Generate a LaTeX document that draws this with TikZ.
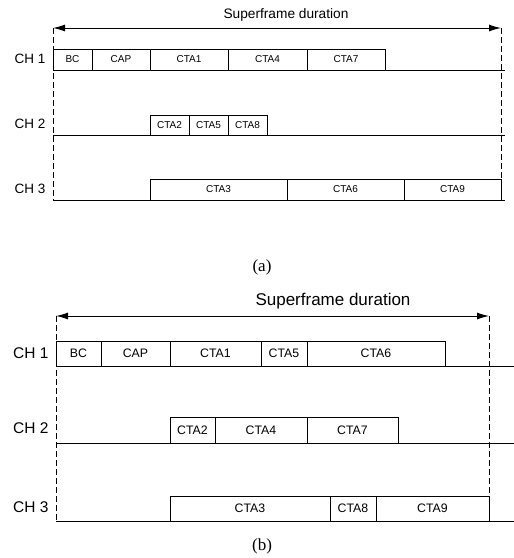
\documentclass[tikz,border=0pt]{standalone}
\usepackage{fontspec}
\setmainfont{Liberation Serif}
\setsansfont{Liberation Sans}
\usetikzlibrary{arrows.meta}
\begin{document}
\begin{tikzpicture}[x=1pt,y=-1pt,line width=1pt,
  slota/.style={draw, inner sep=0pt, outer sep=0pt, anchor=north west, minimum height=21pt,
    font=\sffamily\fontsize{10}{11}\selectfont},
  slotb/.style={draw, inner sep=0pt, outer sep=0pt, anchor=north west, minimum height=25pt,
    font=\sffamily\fontsize{12.3}{14}\selectfont},
  cha/.style={anchor=east, inner sep=0pt, font=\sffamily\fontsize{13.5}{15}\selectfont},
  chb/.style={anchor=east, inner sep=0pt, font=\sffamily\fontsize{15.5}{17}\selectfont},
  dur/.style={{Latex[length=12pt,width=7pt]}-{Latex[length=12pt,width=7pt]}},
  guide/.style={dashed, dash pattern=on 6pt off 3pt, line width=0.8pt},
  sublabel/.style={inner sep=0pt, font=\fontsize{17}{19}\selectfont}]
\useasboundingbox (0,0) rectangle (514,558);
% ---------------- (a) ----------------
\coordinate (aTL) at (53,28);
\coordinate (aTR) at (501,28);
\coordinate (aBL) at (53,200);
\draw[dur] (aTL) -- (aTR);
\node[inner sep=0pt, font=\sffamily\fontsize{13.7}{15}\selectfont] (atitle) at (286,15) {Superframe duration};
% CH1
\node[slota, minimum width=39pt] (abc) at (53,49) {BC};
\node[slota, minimum width=58pt] (acap) at (abc.north east) {CAP};
\node[slota, minimum width=78pt] (acta1) at (acap.north east) {CTA1};
\node[slota, minimum width=79pt] (acta4) at (acta1.north east) {CTA4};
\node[slota, minimum width=78pt] (acta7) at (acta4.north east) {CTA7};
\coordinate (a1L) at (53,70);
\coordinate (a1R) at (505,70);
\draw (a1L) -- (a1R);
% CH2
\node[slota, minimum width=39pt, minimum height=20pt] (acta2) at (150,115) {CTA2};
\node[slota, minimum width=39pt, minimum height=20pt] (acta5) at (acta2.north east) {CTA5};
\node[slota, minimum width=39pt, minimum height=20pt] (acta8) at (acta5.north east) {CTA8};
\coordinate (a2L) at (53,135);
\coordinate (a2R) at (505,135);
\draw (a2L) -- (a2R);
% CH3
\node[slota, minimum width=137pt] (acta3) at (150,179) {CTA3};
\node[slota, minimum width=117pt] (acta6) at (acta3.north east) {CTA6};
\node[slota, minimum width=97pt] (acta9) at (acta6.north east) {CTA9};
\coordinate (a3L) at (53,200);
\coordinate (a3R) at (505,200);
\draw (a3L) -- (a3R);
% guides
\draw[guide] (aTL) -- (aBL);
\draw[guide] (aTR) -- (acta9.north east);
% labels
\node[cha] (ach1) at (46,59) {CH 1};
\node[cha] (ach2) at (46,124) {CH 2};
\node[cha] (ach3) at (46,189) {CH 3};
\node[sublabel] (alabel) at (262,267) {(a)};
% ---------------- (b) ----------------
\coordinate (bTL) at (56,316);
\coordinate (bTR) at (489,316);
\coordinate (bBL) at (56,521);
\draw[dur] (bTL) -- (bTR);
\node[inner sep=0pt, font=\sffamily\fontsize{17}{19}\selectfont] (btitle) at (333,301) {Superframe duration};
% CH1
\node[slotb, minimum width=45pt] (bbc) at (56,341) {BC};
\node[slotb, minimum width=69pt] (bcap) at (bbc.north east) {CAP};
\node[slotb, minimum width=91pt] (bcta1) at (bcap.north east) {CTA1};
\node[slotb, minimum width=46pt] (bcta5) at (bcta1.north east) {CTA5};
\node[slotb, minimum width=138pt] (bcta6) at (bcta5.north east) {CTA6};
\coordinate (b1L) at (56,366);
\coordinate (b1R) at (514,366);
\draw (b1L) -- (b1R);
% CH2
\node[slotb, minimum width=45pt, minimum height=26pt] (bcta2) at (170,417) {CTA2};
\node[slotb, minimum width=92pt, minimum height=26pt] (bcta4) at (bcta2.north east) {CTA4};
\node[slotb, minimum width=91pt, minimum height=26pt] (bcta7) at (bcta4.north east) {CTA7};
\coordinate (b2L) at (56,443);
\coordinate (b2R) at (514,443);
\draw (b2L) -- (b2R);
% CH3
\node[slotb, minimum width=160pt] (bcta3) at (170,496) {CTA3};
\node[slotb, minimum width=46pt] (bcta8) at (bcta3.north east) {CTA8};
\node[slotb, minimum width=113pt] (bcta9) at (bcta8.north east) {CTA9};
\coordinate (b3L) at (56,521);
\coordinate (b3R) at (514,521);
\draw (b3L) -- (b3R);
% guides
\draw[guide] (bTL) -- (bBL);
\draw[guide] (bTR) -- (bcta9.north east);
% labels
\node[chb] (bch1) at (49,353) {CH 1};
\node[chb] (bch2) at (49,428) {CH 2};
\node[chb] (bch3) at (49,507) {CH 3};
\node[sublabel] (blabel) at (262,546) {(b)};
\end{tikzpicture}
\end{document}
